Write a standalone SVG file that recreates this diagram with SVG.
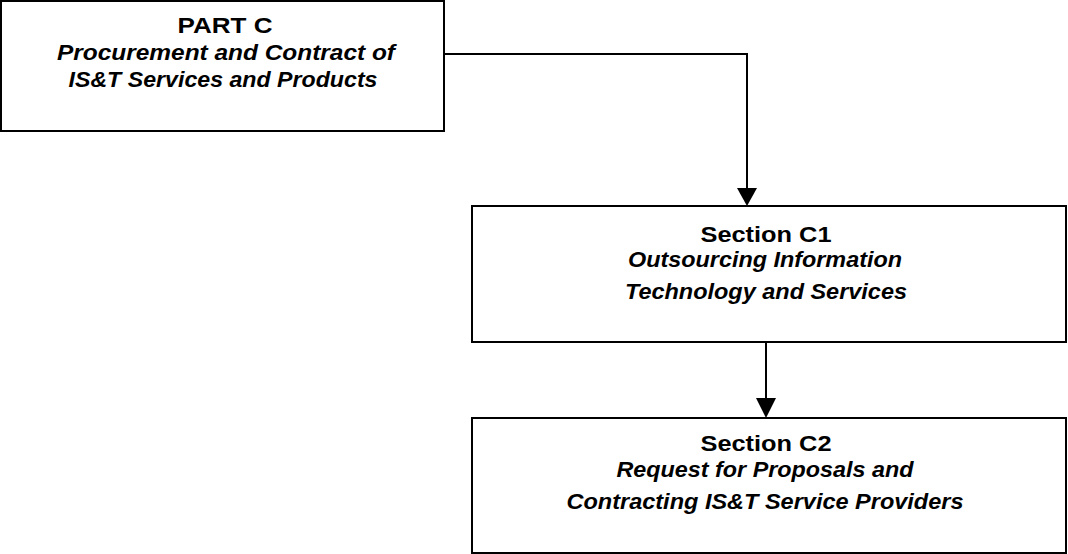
<svg xmlns="http://www.w3.org/2000/svg" width="1068" height="554" viewBox="0 0 1068 554">
  <style>
    .box { fill: #ffffff; stroke: #000000; stroke-width: 2; }
    .wire { fill: none; stroke: #000000; stroke-width: 2; }
    .head { fill: #000000; stroke: none; }
    .title { font-family: "Liberation Sans", Arial, sans-serif; font-weight: bold; font-size: 22px; text-anchor: middle; fill: #000000; }
    .sub { font-family: "Liberation Sans", Arial, sans-serif; font-weight: bold; font-style: italic; font-size: 22px; text-anchor: middle; fill: #000000; }
  </style>
  <rect width="1068" height="554" fill="#ffffff"/>

  <!-- connectors -->
  <g id="connectors">
    <path class="wire" d="M444,54 H747 V190"/>
    <polygon class="head" points="737,188 757,188 747,206"/>
    <path class="wire" d="M766,342 V400"/>
    <polygon class="head" points="756,398 776,398 766,418"/>
  </g>

  <g id="part-c">
    <rect class="box" x="1" y="1" width="443" height="130"/>
    <text class="title" x="225" y="33" textLength="95" lengthAdjust="spacingAndGlyphs">PART C</text>
    <text class="sub" x="226" y="60" textLength="338" lengthAdjust="spacingAndGlyphs">Procurement and Contract of</text>
    <text class="sub" x="223" y="87" textLength="309" lengthAdjust="spacingAndGlyphs">IS&amp;T Services and Products</text>
  </g>

  <g id="section-c1">
    <rect class="box" x="472" y="206" width="594" height="136"/>
    <text class="title" x="766" y="242" textLength="131" lengthAdjust="spacingAndGlyphs">Section C1</text>
    <text class="sub" x="765" y="267" textLength="274" lengthAdjust="spacingAndGlyphs">Outsourcing Information</text>
    <text class="sub" x="766" y="299" textLength="282" lengthAdjust="spacingAndGlyphs">Technology and Services</text>
  </g>

  <g id="section-c2">
    <rect class="box" x="472" y="418" width="594" height="135"/>
    <text class="title" x="766" y="451" textLength="131" lengthAdjust="spacingAndGlyphs">Section C2</text>
    <text class="sub" x="765" y="477" textLength="297" lengthAdjust="spacingAndGlyphs">Request for Proposals and</text>
    <text class="sub" x="765" y="509" textLength="397" lengthAdjust="spacingAndGlyphs">Contracting IS&amp;T Service Providers</text>
  </g>
</svg>
